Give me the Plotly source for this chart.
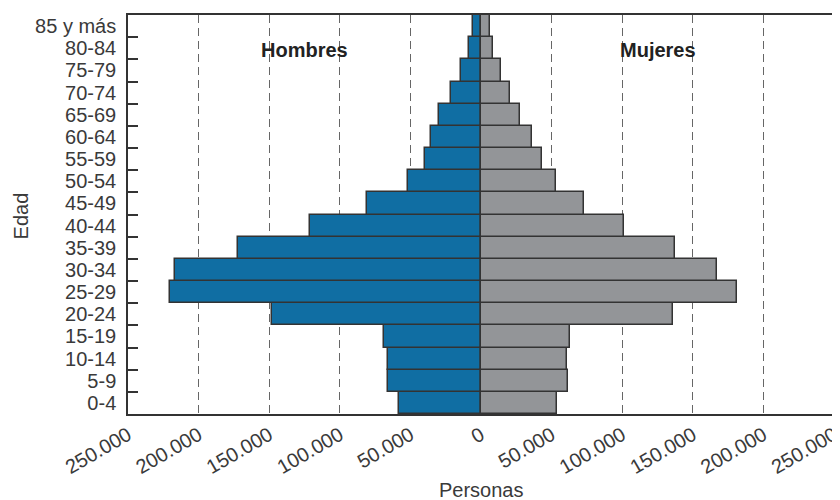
import plotly.graph_objects as go

EDADES = ["0-4", "5-9", "10-14", "15-19", "20-24", "25-29", "30-34", "35-39",
          "40-44", "45-49", "50-54", "55-59", "60-64", "65-69", "70-74",
          "75-79", "80-84", "85 y más"]
HOMBRES = [57900, 65700, 66000, 69000, 147800, 220000, 216700, 172000,
           121000, 81000, 52000, 40000, 35500, 29800, 21200, 14200, 8800, 5700]
MUJERES = [53500, 61800, 61000, 63000, 136000, 181000, 167000, 137400,
           101000, 73000, 53000, 43000, 36000, 27600, 20500, 13900, 8700, 6400]
TICKS = [-250000, -200000, -150000, -100000, -50000, 0,
         50000, 100000, 150000, 200000, 250000]

AZUL = "#106ea3"
GRIS = "#939598"
BORDE = "#333333"
TEXTO = "#3a3a3a"


def fmt(v):
    return f"{abs(v):,}".replace(",", ".")


fig = go.Figure()
fig.add_trace(go.Bar(
    y=EDADES, x=[-v for v in HOMBRES], orientation="h", name="Hombres",
    marker=dict(color=AZUL, line=dict(color=BORDE, width=1.5)),
))
fig.add_trace(go.Bar(
    y=EDADES, x=MUJERES, orientation="h", name="Mujeres",
    marker=dict(color=GRIS, line=dict(color=BORDE, width=1.5)),
))

for txt, xv in [("Hombres", -125000), ("Mujeres", 125000)]:
    fig.add_annotation(x=xv, y=0.945, xref="x", yref="paper", text=f"<b>{txt}</b>",
                       showarrow=False, font=dict(size=20, color="#222"))

# titulos de ejes como anotaciones (sin automargin)
fig.add_annotation(x=0, y=-0.19, xref="x", yref="paper", text="Personas",
                   showarrow=False, yanchor="middle", font=dict(size=20, color=TEXTO))
fig.add_annotation(x=-0.152, y=0.497, xref="paper", yref="paper", text="Edad",
                   showarrow=False, textangle=-90, xanchor="center", yanchor="middle",
                   font=dict(size=20, color=TEXTO))

# la pagina tiene ~8px de margen en el body: se compensa en los margenes
fig.update_layout(
    width=840, height=500,
    margin=dict(l=120, r=14, t=7, b=94),
    paper_bgcolor="white", plot_bgcolor="white",
    font=dict(family="Liberation Sans, Arial, sans-serif", size=20, color=TEXTO),
    barmode="overlay", bargap=0, showlegend=False,
    xaxis=dict(
        range=[-250000, 250000], tickvals=TICKS, ticktext=[fmt(v) for v in TICKS],
        tickangle=-30, showgrid=True, gridcolor="#666", griddash="8px,5px", gridwidth=1,
        zeroline=False, showline=True, linecolor=BORDE, linewidth=1.5, mirror=True,
        ticks="", automargin=False,
    ),
    yaxis=dict(
        categoryorder="array", categoryarray=EDADES,
        tickmode="linear", tick0=0, dtick=1,
        ticks="inside", tickson="boundaries", ticklen=10, tickwidth=1.5, tickcolor=BORDE,
        showline=True, linecolor=BORDE, linewidth=1.5, mirror=True, showgrid=False,
        ticklabelstandoff=6, automargin=False,
    ),
)

fig.write_html("out.html")
